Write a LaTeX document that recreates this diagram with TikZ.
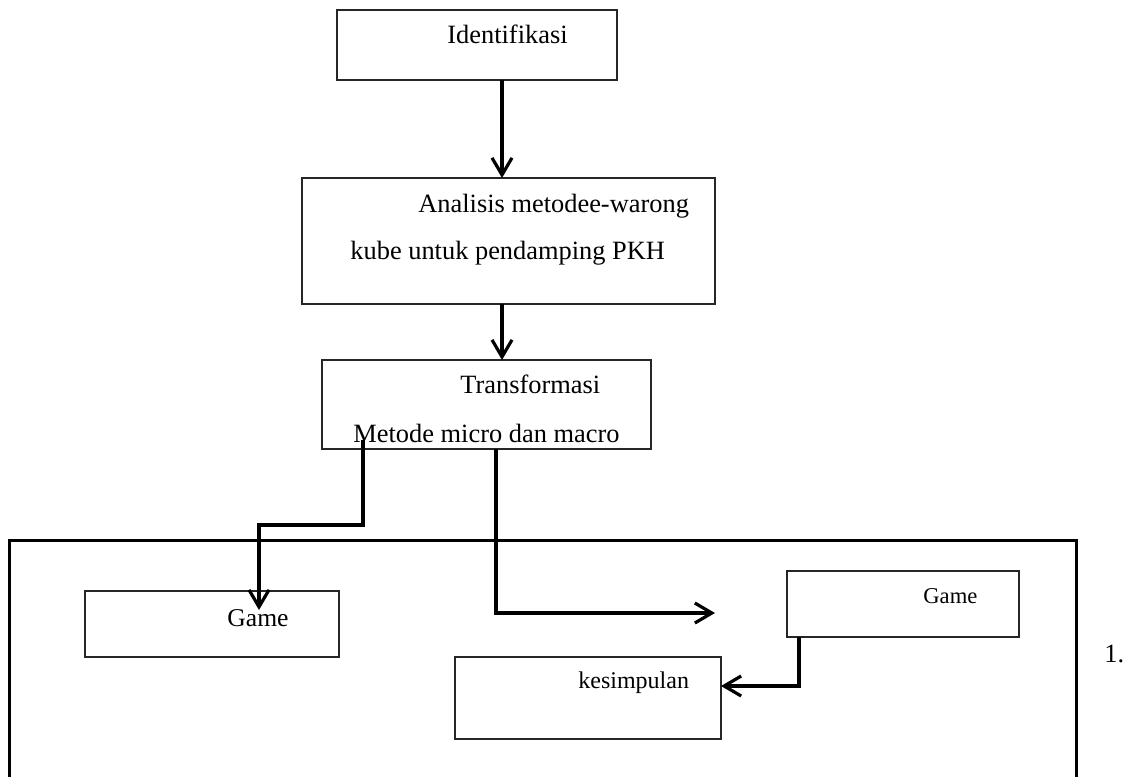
\documentclass[tikz,border=0pt]{standalone}
\usepackage{fontspec}
\setmainfont{Liberation Serif}
\usepackage{tikz}
\usetikzlibrary{arrows.meta}
\usetikzlibrary{calc}

\begin{document}
\begin{tikzpicture}[x=0.5pt,y=-0.5pt,
  box/.style={draw=black!85,line width=0.8pt,inner sep=0pt,outer sep=0pt},
  conn/.style={line width=1.6pt,-{Straight Barb[length=8.5pt,width=10pt,line width=1.6pt]}},
  txt/.style={inner sep=0pt,anchor=base west,font=\fontsize{13.2}{16}\selectfont},
  smalltxt/.style={txt,font=\fontsize{12}{14}\selectfont}]

  \useasboundingbox (0,0) rectangle (1129,776);

  % outer frame, open at the bottom
  \draw[line width=1.5pt] (9,777) -- (9,540) -- (1076,540) -- (1076,777);

  % boxes
  \node[box,minimum width=140pt,minimum height=35pt] (ident) at (477,45) {};
  \node[box,minimum width=206.5pt,minimum height=63pt] (analisis) at (508.5,241) {};
  \node[box,minimum width=164.5pt,minimum height=44.5pt] (transf) at (486.5,404.5) {};
  \node[box,minimum width=127pt,minimum height=33pt] (gameL) at (212,624) {};
  \node[box,minimum width=116pt,minimum height=33pt] (gameR) at (903,604) {};
  \node[box,minimum width=133pt,minimum height=41pt] (kesimp) at (588,698) {};

  % texts
  \node[txt] (identtxt) at (447,43) {Identifikasi};
  \node[txt] (anltxt1) at (418,212) {Analisis metodee-warong};
  \node[txt] (anltxt2) at (350,259) {kube untuk pendamping PKH};
  \node[txt] (trtxt1) at (460,393) {Transformasi};
  \begin{scope}
    \clip (transf.south west) rectangle (transf.north east);
    \node[txt] (trtxt2) at (353,442) {Metode micro dan macro};
  \end{scope}
  \node[txt,font=\fontsize{12.8}{15}\selectfont] (gameLtxt) at (227,626) {Game};
  \node[txt,font=\fontsize{11.3}{14}\selectfont] (gameRtxt) at (923,603) {Game};
  \node[smalltxt] (kestxt) at (578,688) {kesimpulan};
  \node[txt] (numtxt) at (1104,662) {1.};

  % connectors
  \draw[conn] ([xshift=12.5pt]ident.south) -- ([xshift=12.5pt]ident.south |- analisis.north);
  \draw[conn] ([xshift=-3.25pt]analisis.south) -- ([xshift=-3.25pt]analisis.south |- transf.north);
  \draw[conn] ([xshift=-61.75pt,yshift=4.5pt]transf.south) -- ++(0,85)
    -| ([xshift=23.5pt,yshift=-9.5pt]gameL.north);
  \coordinate (rtip) at (715,613);
  \draw[conn] ([xshift=4.75pt]transf.south) |- (rtip);
  \draw[conn] ([xshift=-52pt]gameR.south) |- ([yshift=6pt]kesimp.east);
\end{tikzpicture}
\end{document}
